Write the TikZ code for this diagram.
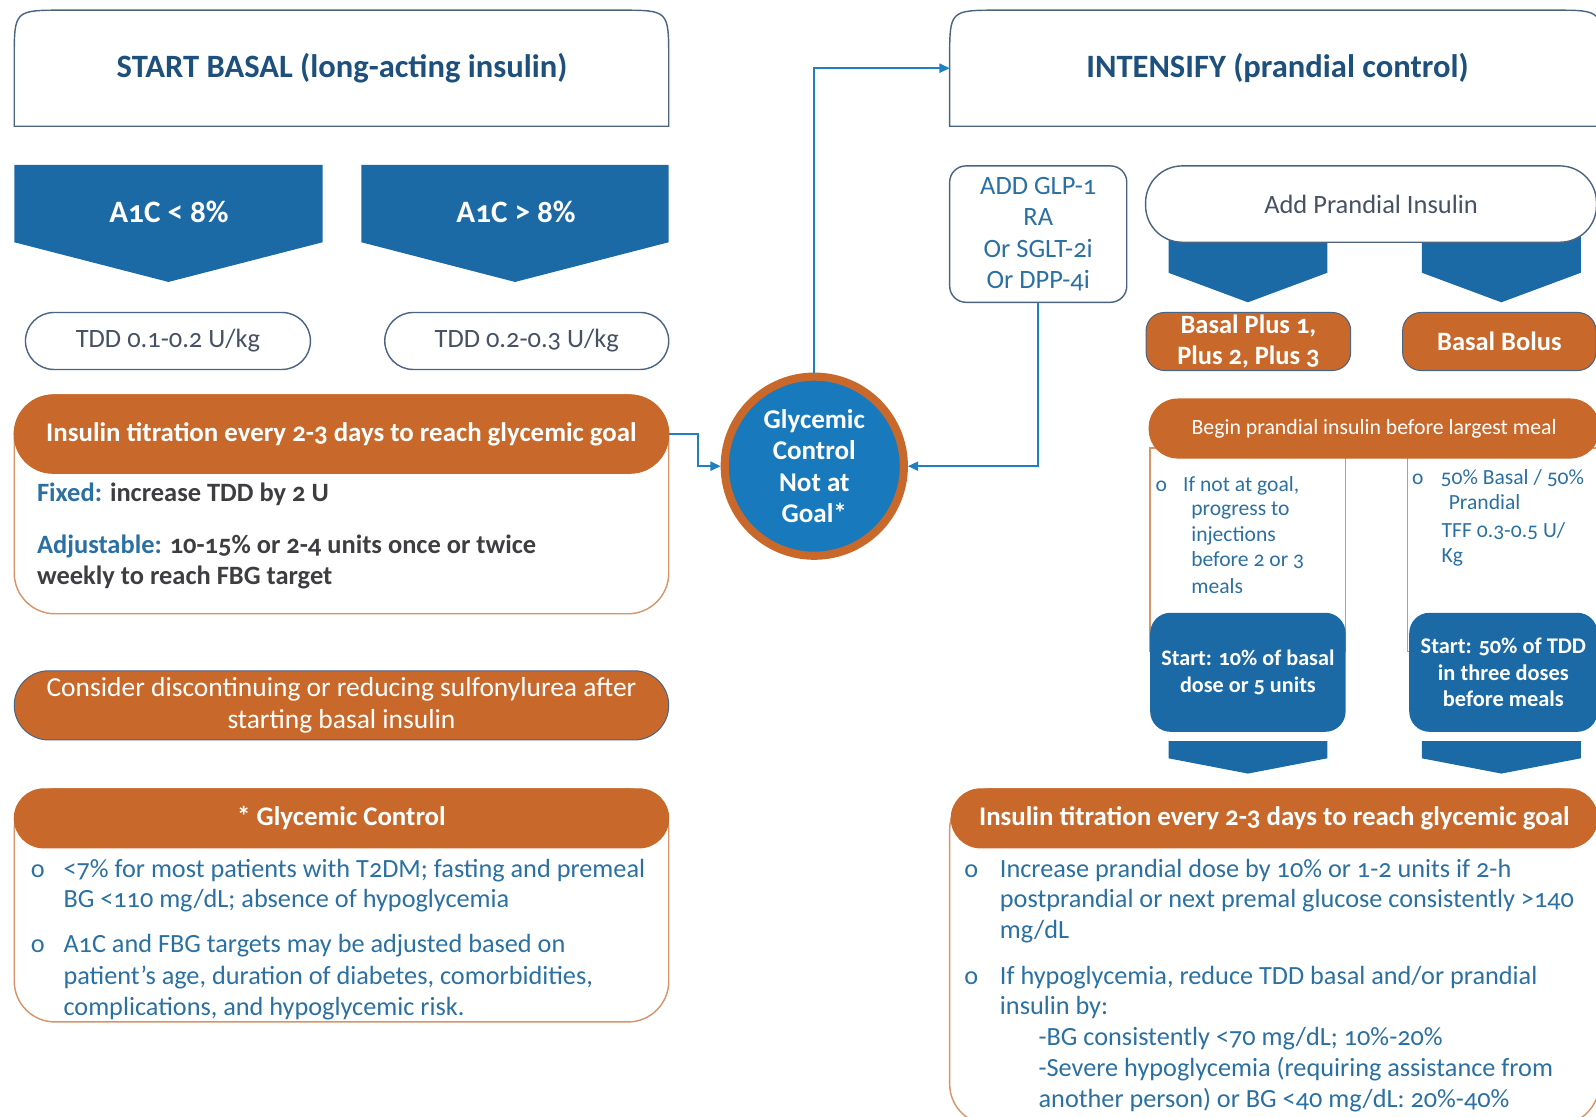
\documentclass[tikz,border=0pt]{standalone}
\usepackage{fontspec}
\setmainfont{Carlito}[Numbers=OldStyle]
\usetikzlibrary{arrows.meta}
\definecolor{cblue}{RGB}{27,106,166}
\definecolor{circblue}{RGB}{24,122,188}
\definecolor{corange}{RGB}{200,105,43}
\definecolor{ctitle}{RGB}{30,80,125}
\definecolor{cline}{RGB}{75,100,130}
\definecolor{cgray}{RGB}{62,62,66}
\definecolor{ctdd}{RGB}{70,82,100}
\definecolor{ctext}{RGB}{42,112,162}
\definecolor{carrow}{RGB}{32,128,190}
\definecolor{cbord}{RGB}{214,148,104}
\begin{document}
\begin{tikzpicture}[x=0.5pt,y=-0.5pt,
  wbox/.style={draw=cline, line width=0.7pt, fill=white, inner sep=0pt},
  obox/.style={fill=corange, draw=cline, line width=0.5pt, inner sep=0pt, text=white},
  bbox/.style={fill=cblue, inner sep=0pt, text=white},
  frame/.style={draw=cbord, line width=0.7pt, inner sep=0pt},
  t/.style={inner sep=0pt, text height=1.6ex, text depth=0.4ex, anchor=west},
  titlef/.style={font=\fontsize{16}{19}\bfseries, text=ctitle},
  chevf/.style={font=\fontsize{15.3}{18}\bfseries, text=white},
  hdrf/.style={font=\fontsize{13.2}{15}\bfseries},
  bodyf/.style={font=\fontsize{12.9}{15}\selectfont, text=ctext},
  colf/.style={font=\fontsize{10.6}{12}\selectfont, text=ctext},
  arr/.style={draw=carrow, line width=0.8pt, -{Triangle[length=5pt,width=4.5pt]}}
]
\useasboundingbox (0,0) rectangle (1568,1097);

% ---------- left column ----------
\draw[wbox] (14,124) -- (14,58) .. controls (14,10) .. (62,10) -- (609,10) .. controls (657,10) .. (657,58) -- (657,124) -- cycle;
\node[titlef] (starttitle) at (336,67) {START BASAL (long-acting insulin)};

\fill[cblue] (14,162) -- (317,162) -- (317,238) -- (165.5,277) -- (14,238) -- cycle;
\node[chevf] (a1clow) at (166,208) {A1C < 8\%};
\fill[cblue] (355,162) -- (657,162) -- (657,238) -- (506,277) -- (355,238) -- cycle;
\node[chevf] (a1chigh) at (507,208) {A1C > 8\%};

\node[wbox, rounded corners=14pt, minimum width=140pt, minimum height=28pt, font=\fontsize{13}{15}\selectfont, text=ctdd] (tdd1) at (165,335) {TDD 0.1-0.2 U/kg};
\node[wbox, rounded corners=14pt, minimum width=139.5pt, minimum height=28pt, font=\fontsize{13}{15}\selectfont, text=ctdd] (tdd2) at (517.5,335) {TDD 0.2-0.3 U/kg};

\node[frame, rounded corners=20pt, minimum width=321.5pt, minimum height=107.5pt] (titframe) at (335.5,495.5) {};
\node[obox, draw=corange, rounded corners=19pt, minimum width=321.5pt, minimum height=38.5pt, hdrf] (tithdr) at (335.5,426.5) {Insulin titration every 2-3 days to reach glycemic goal};
\node[t, font=\fontsize{13}{15}\bfseries, text=cgray] (fixed) at (36,487) {\textcolor{ctext}{Fixed:} increase TDD by 2 U};
\node[t, font=\fontsize{13}{15}\bfseries, text=cgray] (adj1) at (36,538) {\textcolor{ctext}{Adjustable:} 10-15\% or 2-4 units once or twice};
\node[t, font=\fontsize{13}{15}\bfseries, text=cgray] (adj2) at (36,569) {weekly to reach FBG target};

\node[obox, rounded corners=17pt, minimum width=321.5pt, minimum height=34pt, align=center, font=\fontsize{13.5}{15.5}\selectfont] (consider) at (335.5,693) {Consider discontinuing or reducing sulfonylurea after\\starting basal insulin};

\node[frame, rounded corners=20pt, minimum width=321.5pt, minimum height=114.5pt] (gcframe) at (335.5,889.5) {};
\node[obox, draw=corange, rounded corners=14.5pt, minimum width=321.5pt, minimum height=29pt, hdrf] (gchdr) at (335.5,804) {* Glycemic Control};
\node[t, bodyf] (gcb1) at (30,856) {o};
\node[t, bodyf] (gcl1) at (62,856) {<7\% for most patients with T2DM; fasting and premeal};
\node[t, bodyf] (gcl2) at (62,886) {BG <110 mg/dL; absence of hypoglycemia};
\node[t, bodyf] (gcb2) at (30,930) {o};
\node[t, bodyf] (gcl3) at (62,930) {A1C and FBG targets may be adjusted based on};
\node[t, bodyf] (gcl4) at (62,961) {patient’s age, duration of diabetes, comorbidities,};
\node[t, bodyf] (gcl5) at (62,992) {complications, and hypoglycemic risk.};

% ---------- centre ----------
\node[circle, fill=circblue, draw=corange, line width=4pt, minimum size=88pt, inner sep=0pt, align=center, text=white, font=\fontsize{13.3}{15.5}\bfseries] (circ) at (800,458) {Glycemic\\Control\\Not at\\Goal*};

% ---------- right column ----------
\draw[wbox] (933,124) -- (933,58) .. controls (933,10) .. (981,10) -- (1527,10) .. controls (1574,10) .. (1574,58) -- (1574,124) -- cycle;
\node[titlef] (inttitle) at (1255,67) {INTENSIFY (prandial control)};
\coordinate (intL) at (933,67);

\node[wbox, rounded corners=8pt, minimum width=87pt, minimum height=67pt, align=center, text=ctext, font=\fontsize{13}{15.5}\selectfont] (glp) at (1020,230) {ADD GLP-1\\RA\\Or SGLT-2i\\Or DPP-4i};

\fill[cblue] (1148,230) -- (1304,230) -- (1304,268) -- (1226,297) -- (1148,268) -- cycle;
\fill[cblue] (1397,230) -- (1553,230) -- (1553,268) -- (1475,297) -- (1397,268) -- cycle;
\node[wbox, rounded corners=18pt, minimum width=221.5pt, minimum height=37.5pt, text=ctdd, font=\fontsize{13}{15}\selectfont] (addpr) at (1347,200.5) {Add Prandial Insulin};

\node[obox, rounded corners=9pt, minimum width=100.5pt, minimum height=28.5pt, align=center, font=\fontsize{13}{15}\bfseries] (bplus) at (1226.5,335.5) {Basal Plus 1,\\Plus 2, Plus 3};
\node[obox, rounded corners=9pt, minimum width=95pt, minimum height=28.5pt, font=\fontsize{13}{15}\bfseries] (bbolus) at (1473,335.5) {Basal Bolus};

\node[frame, minimum width=96pt, minimum height=100pt] (col1) at (1226,540) {};
\node[frame, minimum width=94pt, minimum height=100pt] (col2) at (1477,540) {};
\node[obox, draw=corange, rounded corners=14pt, minimum width=221pt, minimum height=29pt, font=\fontsize{10.7}{12}\selectfont] (begin) at (1350,421) {Begin prandial insulin before largest meal};

\node[t, colf] (c1b) at (1135,477) {o};
\node[t, colf] (c1l1) at (1162,477) {If not at goal,};
\node[t, colf] (c1l2) at (1170,501) {progress to};
\node[t, colf] (c1l3) at (1170,526) {injections};
\node[t, colf] (c1l4) at (1170,551) {before 2 or 3};
\node[t, colf] (c1l5) at (1170,577) {meals};
\node[t, colf] (c2b) at (1387,470) {o};
\node[t, colf] (c2l1) at (1415,470) {50\% Basal / 50\%};
\node[t, colf] (c2l2) at (1423,495) {Prandial};
\node[t, colf] (c2l3) at (1416,522) {TFF 0.3-0.5 U/};
\node[t, colf] (c2l4) at (1416,547) {Kg};

\node[bbox, rounded corners=10pt, minimum width=96pt, minimum height=58.5pt, align=center, font=\fontsize{10.9}{13}\bfseries] (st1) at (1226,660.5) {Start: 10\% of basal\\dose or 5 units};
\node[bbox, rounded corners=10pt, minimum width=92.5pt, minimum height=58.5pt, align=center, font=\fontsize{11}{13}\bfseries] (st2) at (1477,660.5) {Start: 50\% of TDD\\in three doses\\before meals};

\fill[cblue] (1148,728) -- (1304,728) -- (1304,745) -- (1226,760) -- (1148,745) -- cycle;
\fill[cblue] (1397,728) -- (1553,728) -- (1553,745) -- (1475,760) -- (1397,745) -- cycle;

\node[frame, rounded corners=20pt, minimum width=319pt, minimum height=165pt] (rtframe) at (1252,940) {};
\node[obox, draw=corange, rounded corners=14.5pt, minimum width=317.5pt, minimum height=29pt, hdrf] (rthdr) at (1252,804) {Insulin titration every 2-3 days to reach glycemic goal};
\node[t, bodyf] (rb1) at (947,856) {o};
\node[t, bodyf] (rl1) at (982,856) {Increase prandial dose by 10\% or 1-2 units if 2-h};
\node[t, bodyf] (rl2) at (982,886) {postprandial or next premal glucose consistently >140};
\node[t, bodyf] (rl3) at (982,916) {mg/dL};
\node[t, bodyf] (rb2) at (947,961) {o};
\node[t, bodyf] (rl4) at (982,961) {If hypoglycemia, reduce TDD basal and/or prandial};
\node[t, bodyf] (rl5) at (982,991) {insulin by:};
\node[t, bodyf] (rl6) at (1020,1021) {-BG consistently <70 mg/dL; 10\%-20\%};
\node[t, bodyf] (rl7) at (1020,1052) {-Severe hypoglycemia (requiring assistance from};
\node[t, bodyf] (rl8) at (1020,1082) {another person) or BG <40 mg/dL: 20\%-40\%};

% ---------- connectors ----------
\draw[arr] (circ.north) -- (circ.north |- intL) -- (intL);
\draw[arr] (tithdr.east) -- ++(28,0) |- (circ.west);
\draw[arr] (glp.south) |- (circ.east);
\end{tikzpicture}
\end{document}
